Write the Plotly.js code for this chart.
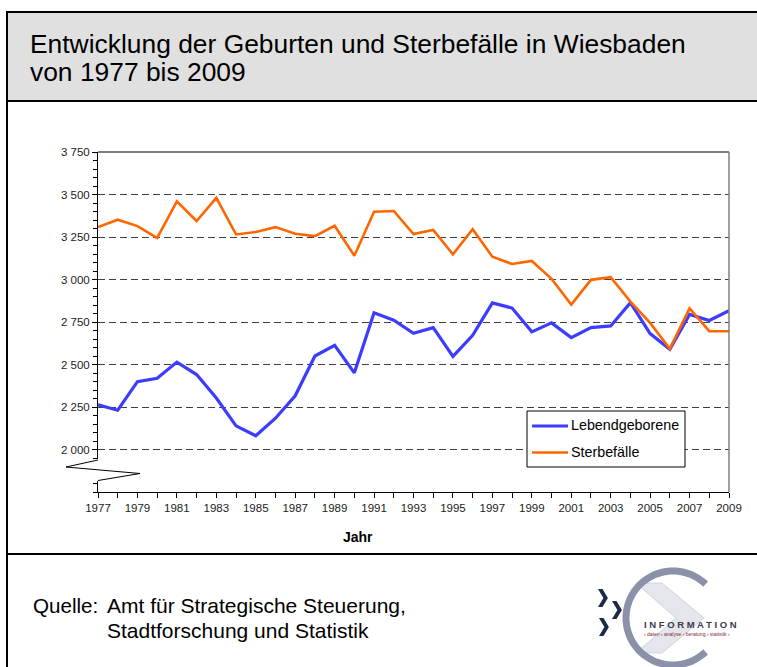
<!DOCTYPE html>
<html>
<head>
<meta charset="utf-8">
<script src="https://cdn.plot.ly/plotly-3.0.1.min.js"></script>
<style>
  html, body { margin: 0; padding: 0; background: #fff; }
  #chart { width: 757px; height: 667px; }
</style>
</head>
<body>
<div id="chart"></div>
<script>
// ---- data ----
const years = [1977,1978,1979,1980,1981,1982,1983,1984,1985,1986,1987,1988,1989,1990,1991,1992,1993,
               1994,1995,1996,1997,1998,1999,2000,2001,2002,2003,2004,2005,2006,2007,2008,2009];
const lebendgeborene = [2263,2231,2399,2419,2514,2441,2303,2139,2081,2184,2316,2550,2613,2451,2804,2761,2684,
                        2717,2548,2672,2862,2832,2692,2745,2658,2717,2727,2864,2682,2589,2795,2759,2816];
const sterbefaelle = [3308,3352,3314,3245,3460,3344,3480,3265,3279,3308,3269,3255,3316,3140,3399,3403,3267,
                      3291,3148,3296,3134,3091,3109,3004,2852,2998,3014,2870,2745,2593,2830,2696,2696];
const yTickVals = [2000,2250,2500,2750,3000,3250,3500,3750];
const yTickText = ['2 000','2 250','2 500','2 750','3 000','3 250','3 500','3 750'];
const xTickText = years.map(y => (y % 2 === 1) ? String(y) : '');
const seriesNames = ['Lebendgeborene','Sterbefälle'];
const xAxisTitle = 'Jahr';
const titleLines = ['Entwicklung der Geburten und Sterbefälle in Wiesbaden','von 1977 bis 2009'];
const sourceLines = ['Quelle:','Amt für Strategische Steuerung,','Stadtforschung und Statistik'];

// ---- geometry helpers (pixel -> paper) ----
const W = 757, H = 667, L = 98, R = 729, T = 152, B = 492;
const px = x => (x - L) / (R - L);
const py = y => (B - y) / (B - T);
const FONT = 'Liberation Sans, Arial, sans-serif';
const BLUE = '#3c3cff', ORANGE = '#ff6600';

const traces = [
  { x: years, y: lebendgeborene, name: seriesNames[0], type: 'scatter', mode: 'lines',
    line: { color: BLUE, width: 3.2 }, hoverinfo: 'x+y+name' },
  { x: years, y: sterbefaelle, name: seriesNames[1], type: 'scatter', mode: 'lines',
    line: { color: ORANGE, width: 2.6 }, hoverinfo: 'x+y+name' }
];

function line(x0, y0, x1, y1, color, width, dash) {
  return { type: 'line', xref: 'paper', yref: 'paper', x0: px(x0), y0: py(y0), x1: px(x1), y1: py(y1),
           line: { color: color, width: width, dash: dash || 'solid' }, layer: 'above' };
}
function rect(x0, y0, x1, y1, fill, color, width, layer) {
  return { type: 'rect', xref: 'paper', yref: 'paper', x0: px(x0), y0: py(y0), x1: px(x1), y1: py(y1),
           fillcolor: fill, line: { color: color, width: width }, layer: layer || 'above' };
}
function pathPx(points, close) {
  let s = 'M ' + points.map(p => px(p[0]) + ',' + py(p[1])).join(' L ');
  if (close) s += ' Z';
  return s;
}

const shapes = [];
// title box (gray) and outer frame
shapes.push(rect(7, 12, 790, 101, '#e0e0e0', '#000', 2, 'below'));
shapes.push(line(7, 101, 7, 700, '#000', 2));
shapes.push(line(7, 554, 790, 554, '#000', 2));
// plot area top & right border
shapes.push(line(L, T, R, T, '#000', 1.2));
shapes.push(line(R, T, R, B, '#808080', 1.5));
// axis break
shapes.push(rect(88, 459, 101, 481, '#fff', 'rgba(0,0,0,0)', 0));
shapes.push({ type: 'path', xref: 'paper', yref: 'paper',
  path: pathPx([[98, 460], [66, 467], [140, 473.5], [98, 480.5]]),
  line: { color: '#000', width: 1 }, layer: 'above' });
// legend (manual, to match placement)
shapes.push(rect(527, 411, 685, 467, '#fff', '#000', 1));
shapes.push(line(532, 426, 568, 426, BLUE, 3.2));
shapes.push(line(532, 452.5, 568, 452.5, ORANGE, 2.6));

// ---- logo (decoration) ----
const cx = 673, cy = 618, rr = 47;
// inner light chevron
shapes.push({ type: 'path', xref: 'paper', yref: 'paper',
  path: pathPx([[636, 583], [662, 583], [704, 618], [662, 653], [636, 653], [676, 618]], true),
  fillcolor: '#e4e6ec', line: { color: '#d0d4de', width: 1 }, layer: 'above' });
const arcPts = [];
for (let a = 46; a <= 314; a += 4) {
  const t = a * Math.PI / 180;
  arcPts.push([cx + rr * Math.cos(t), cy - rr * Math.sin(t)]);
}
shapes.push({ type: 'path', xref: 'paper', yref: 'paper', path: pathPx(arcPts),
  line: { color: '#8a91a8', width: 7 }, layer: 'above' });
// navy chevrons
function chevron(x, y, s) {
  return { type: 'path', xref: 'paper', yref: 'paper',
    path: pathPx([[x, y - s], [x + s * 0.5, y - s], [x + s * 1.1, y], [x + s * 0.5, y + s], [x, y + s], [x + s * 0.6, y]], true),
    fillcolor: '#1c2a4a', line: { color: '#1c2a4a', width: 0 }, layer: 'above' };
}
shapes.push(chevron(598, 598, 9));
shapes.push(chevron(612, 610, 9));
shapes.push(chevron(599, 627, 9));

const annotations = [];
function ann(text, x, y, size, opts) {
  return Object.assign({ text: text, xref: 'paper', yref: 'paper', x: px(x), y: py(y), xanchor: 'left', yanchor: 'middle',
    showarrow: false, font: { family: FONT, size: size, color: '#000' } }, opts || {});
}
annotations.push(ann(titleLines[0], 28, 44, 26.4));
annotations.push(ann(titleLines[1], 28, 72, 26.4));
annotations.push(ann(sourceLines[0], 31, 605, 20.6));
annotations.push(ann(sourceLines[1], 105, 605, 21));
annotations.push(ann(sourceLines[2], 105, 630, 21));
annotations.push(ann(seriesNames[0], 569, 425, 14.3));
annotations.push(ann(seriesNames[1], 569, 452, 14.3));
annotations.push(ann('<b>' + xAxisTitle + '</b>', 358, 537, 14, { xanchor: 'center' }));
annotations.push(ann('<b>I N F O R M A T I O N</b>', 642, 624, 9.5, { font: { family: FONT, size: 9.5, color: '#3a3a4a' } }));
annotations.push(ann('› daten › analyse › beratung › statistik ›', 642, 634, 5, { font: { family: FONT, size: 5, color: '#7a2b2b' } }));

const layout = {
  width: W, height: H,
  margin: { l: L, r: W - R, t: T, b: H - B, pad: 0 },
  paper_bgcolor: '#fff', plot_bgcolor: '#fff',
  showlegend: false,
  font: { family: FONT, color: '#222' },
  xaxis: {
    range: [1977, 2009], tickmode: 'array', tickvals: years, ticktext: xTickText,
    ticks: 'outside', ticklen: 5, tickcolor: '#000', tickwidth: 1,
    showline: true, linecolor: '#000', linewidth: 1, showgrid: false, zeroline: false,
    tickfont: { family: FONT, size: 11.5, color: '#222' },
    fixedrange: true
  },
  yaxis: {
    range: [1750, 3750], tickmode: 'array', tickvals: yTickVals, ticktext: yTickText,
    ticks: 'outside', ticklen: 5, tickcolor: '#000', tickwidth: 1,
    showline: true, linecolor: '#000', linewidth: 1,
    showgrid: true, gridcolor: '#404040', gridwidth: 1, griddash: '7px,4px',
    zeroline: false,
    minor: { tickmode: 'linear', tick0: 0, dtick: 50, ticks: 'outside', ticklen: 4, tickcolor: '#000', showgrid: false },
    tickfont: { family: FONT, size: 11.5, color: '#222' },
    fixedrange: true
  },
  shapes: shapes,
  annotations: annotations
};

Plotly.newPlot('chart', traces, layout, { displayModeBar: false });
</script>
</body>
</html>
